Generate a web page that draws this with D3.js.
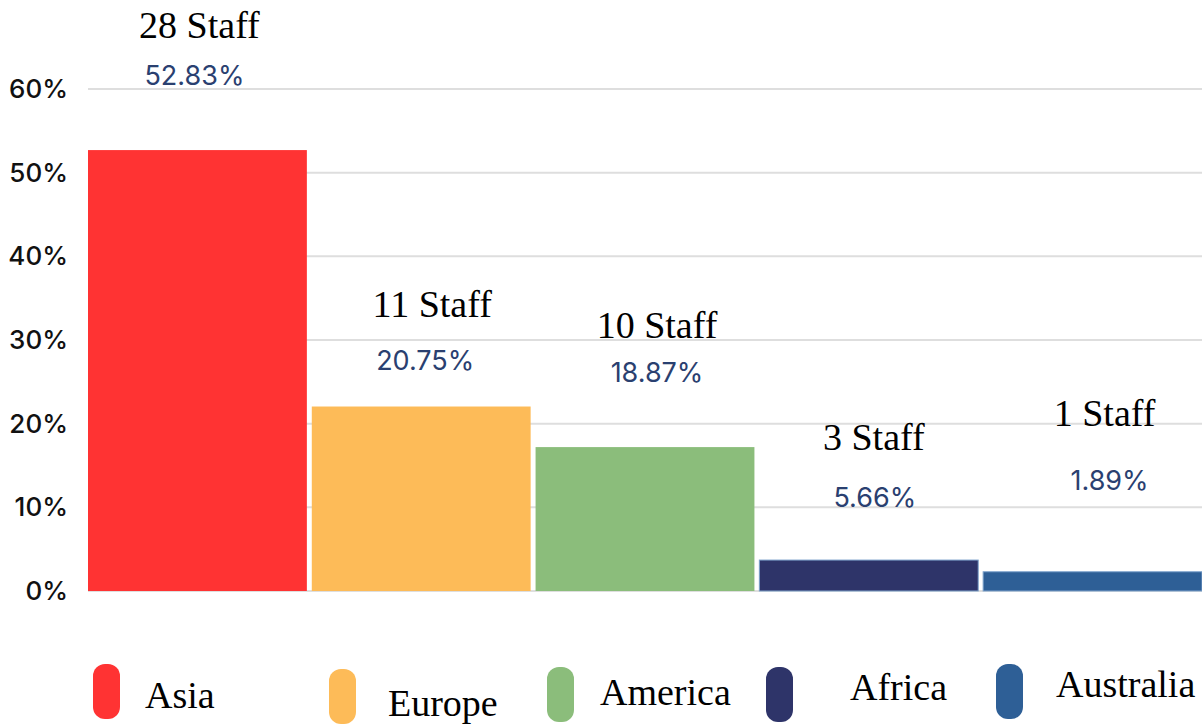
<!DOCTYPE html>
<html>
<head>
<meta charset="utf-8">
<script src="https://cdn.jsdelivr.net/npm/d3@7"></script>
<style>
  html, body { margin: 0; padding: 0; background: #fff; }
  svg { display: block; }
</style>
</head>
<body>
<div id="chart"></div>
<script>
// data
let regions = ["Asia", "Europe", "America", "Africa", "Australia"];
let staff = [28, 11, 10, 3, 1];
let shares = [52.83, 20.75, 18.87, 5.66, 1.89];
// bar heights as drawn in the picture (they do not quite follow the labels)
let barValues = [52.7, 22.05, 17.2, 3.7, 2.3];
let colors = ["#ff3333", "#fdbb58", "#8bbd7b", "#2e3469", "#2e5f96"];
let ticks = [0, 10, 20, 30, 40, 50, 60];

let width = 1202;
let height = 724;

// label placement - layout only
let staffLift = [112, 90, 109, 110, 146];
let pctLift = [65, 37, 65, 53, 82];
let staffNudge = [2, 11, 12, 5, 12];
let pctNudge = [-3, 4, 12, 6, 17];
let legendX = [93, 329, 547, 766, 996];
let legendY = [664, 669, 667, 667, 664];
let legendTextX = [145, 388, 600, 850, 1056];
let legendTextY = [708, 716, 705, 700, 697];

let svg = d3.select('#chart').append('svg')
  .attr('width', width)
  .attr('height', height)

let x = d3.scaleBand()
  .domain(regions)
  .range([88, 1202])
  .paddingInner(0.022)
  .paddingOuter(0)

let y = d3.scaleLinear()
  .domain([0, 60])
  .range([591, 89])

// gridlines
svg.selectAll('.grid')
  .data(ticks)
  .enter()
  .append('line')
  .attr('x1', 88)
  .attr('x2', width)
  .attr('y1', d => y(d))
  .attr('y2', d => y(d))
  .attr('stroke', '#dedede')
  .attr('stroke-width', 2)

// y tick labels
svg.selectAll('.tick-label')
  .data(ticks)
  .enter()
  .append('text')
  .attr('x', 68)
  .attr('y', d => y(d) + 9)
  .attr('text-anchor', 'end')
  .style('font-family', 'Inter, "Open Sans", sans-serif')
  .style('font-size', '26px')
  .style('font-weight', 500)
  .attr('fill', '#111')
  .text(d => d + '%')

// bars
svg.selectAll('.bar')
  .data(regions)
  .enter()
  .append('rect')
  .attr('x', d => x(d))
  .attr('width', x.bandwidth())
  .attr('y', (d, i) => y(barValues[i]))
  .attr('height', (d, i) => y(0) - y(barValues[i]))
  .attr('fill', (d, i) => colors[i])
  .attr('stroke', (d, i) => i >= 3 ? '#7ea3cc' : 'none')
  .attr('stroke-width', 1)

// staff counts
svg.selectAll('.staff')
  .data(regions)
  .enter()
  .append('text')
  .attr('x', (d, i) => x(d) + x.bandwidth() / 2 + staffNudge[i])
  .attr('y', (d, i) => y(barValues[i]) - staffLift[i])
  .attr('text-anchor', 'middle')
  .style('font-family', '"Liberation Serif", "Times New Roman", serif')
  .style('font-size', '38px')
  .attr('fill', '#000')
  .text((d, i) => staff[i] + ' Staff')

// percentages
svg.selectAll('.pct')
  .data(regions)
  .enter()
  .append('text')
  .attr('x', (d, i) => x(d) + x.bandwidth() / 2 + pctNudge[i])
  .attr('y', (d, i) => y(barValues[i]) - pctLift[i])
  .attr('text-anchor', 'middle')
  .style('font-family', 'Inter, "Open Sans", sans-serif')
  .style('font-size', '27px')
  .attr('fill', '#2a4070')
  .text((d, i) => shares[i].toFixed(2) + '%')

// legend
svg.selectAll('.swatch')
  .data(regions)
  .enter()
  .append('rect')
  .attr('x', (d, i) => legendX[i])
  .attr('y', (d, i) => legendY[i])
  .attr('width', 27)
  .attr('height', 55)
  .attr('rx', 12)
  .attr('fill', (d, i) => colors[i])

svg.selectAll('.legend-text')
  .data(regions)
  .enter()
  .append('text')
  .attr('x', (d, i) => legendTextX[i])
  .attr('y', (d, i) => legendTextY[i])
  .style('font-family', '"Liberation Serif", "Times New Roman", serif')
  .style('font-size', '38px')
  .attr('fill', '#000')
  .text(d => d)
</script>
</body>
</html>
